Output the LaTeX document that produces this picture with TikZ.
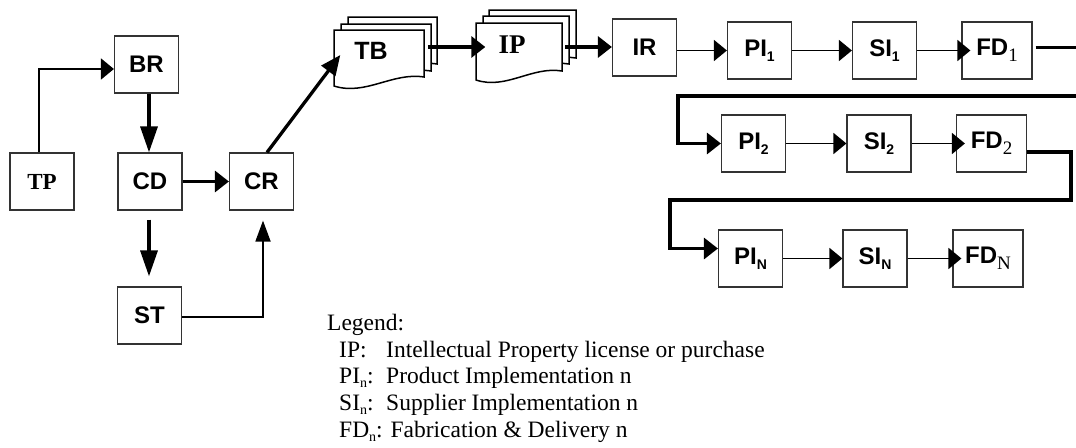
\documentclass[tikz,border=0pt]{standalone}
\usepackage{fontspec}
\setmainfont{Liberation Serif}
\newfontfamily\arialfam{Liberation Sans}
\usetikzlibrary{arrows.meta,calc}
\newcommand{\asub}[1]{\raisebox{-5pt}{\fontsize{14}{14}\selectfont #1}}
\newcommand{\tsub}[1]{\raisebox{-6pt}{\rmfamily\mdseries\fontsize{19}{19}\selectfont #1}}
\newcommand{\lsub}[1]{\raisebox{-4pt}{\fontsize{14}{14}\selectfont #1}}
\newcommand{\docsheet}[4]{%
  \filldraw[sheet] (#1,#2) -- ({#1+#3},#2) -- ({#1+#3},{#2+#4-9})
    .. controls ({#1+0.65*#3},{#2+#4-14}) and ({#1+0.35*#3},{#2+#4+10}) .. (#1,{#2+#4}) -- cycle;}
\begin{document}
\begin{tikzpicture}[x=1pt,y=-1pt,
  box/.style={draw=black!80, line width=1.2pt, minimum width=64pt, minimum height=57pt,
    inner sep=0pt, font=\arialfam\bfseries\fontsize{24}{24}\selectfont},
  fdbox/.style={box, minimum width=70pt},
  sheet/.style={draw=black, fill=white, line width=1.5pt},
  sheetnode/.style={inner sep=0pt},
  legend/.style={anchor=base west, inner sep=0pt, font=\rmfamily\fontsize{23.5}{23.5}\selectfont},
  thinline/.style={line width=1.8pt},
  thickline/.style={line width=3.3pt},
  ah/.style={-{Triangle[length=13pt,width=21pt]}},
  ahk/.style={-{Triangle[length=14pt,width=21pt]}},
  av/.style={-{Triangle[length=26pt,width=17pt]}},
  avt/.style={-{Triangle[length=21pt,width=15pt]}},
  ad/.style={-{Triangle[length=20pt,width=17pt]}}]
\clip (0,0) rectangle (1076,447);
\fill[white] (0,0) rectangle (1076,447);

% stacked documents
\docsheet{348}{17}{89}{56}
\docsheet{341}{24}{90}{56}
\docsheet{334}{30}{90}{56}
\docsheet{489}{10}{87}{57}
\docsheet{483}{16}{86}{57}
\docsheet{476}{23}{86}{57}
\node[sheetnode, minimum width=90pt, minimum height=56pt,
  font=\arialfam\bfseries\fontsize{25}{25}\selectfont] (TB) at (379,58)
  {\raisebox{-1pt}[0pt][0pt]{\makebox[0pt]{TB\hspace{16pt}}}};
\node[sheetnode, minimum width=86pt, minimum height=57pt,
  font=\rmfamily\bfseries\fontsize{27}{27}\selectfont] (IP) at (519,51.5)
  {\raisebox{-1.5pt}[0pt][0pt]{\makebox[0pt]{IP\hspace{14pt}}}};

% boxes
\node[box, font=\rmfamily\bfseries\fontsize{23}{23}\selectfont] (TP) at (42,181.5) {TP};
\node[box] (BR) at (146.5,64.5) {BR};
\node[box] (CD) at (150,181.5) {CD};
\node[box] (CR) at (261.5,181.5) {CR};
\node[box] (ST) at (149.5,315.5) {ST};
\node[box] (IR) at (644.5,47.5) {IR};
\node[box] (PI1) at (759.5,50.5) {PI\asub{1}};
\node[box] (SI1) at (884.5,50.5) {SI\asub{1}};
\node[fdbox] (FD1) at (997,50.5) {FD\tsub{1}};
\node[box] (PI2) at (753.5,143.5) {PI\asub{2}};
\node[box] (SI2) at (879,143.5) {SI\asub{2}};
\node[fdbox] (FD2) at (991.5,143.5) {FD\tsub{2}};
\node[box] (PIN) at (750.5,258.5) {PI\asub{N}};
\node[box] (SIN) at (875,258.5) {SI\asub{N}};
\node[fdbox] (FDN) at (988,258.5) {FD\tsub{N}};

\coordinate (l1) at (678,96);
\coordinate (c2) at (1071,200);
\coordinate (c3) at (670,200);

% connectors
\draw[thinline, ah] ([xshift=-3pt]TP.north) |- ([yshift=-4.5pt]BR.west);
\draw[thickline, av] ([xshift=2.5pt]BR.south) -- ([xshift=-1pt]CD.north);
\draw[thickline, av] ([xshift=-1pt,yshift=-9pt]CD.south) -- ([xshift=-0.5pt,yshift=10pt]ST.north);
\draw[thickline, ahk] (CD.east) -- (CR.west);
\draw[thinline, avt] ([yshift=-1.5pt]ST.east) -| ([xshift=1.5pt,yshift=-10pt]CR.south);
\draw[thickline, ad] ([xshift=5.5pt]CR.north) -- ([xshift=6.5pt,yshift=3pt]TB.west);
\draw[thickline, ahk] ([xshift=3.7pt,yshift=11pt]TB.east) -- ([xshift=9.5pt,yshift=4.5pt]IP.west);
\draw[thickline, ahk] ([xshift=3pt,yshift=4.5pt]IP.east) -- ([yshift=0.5pt]IR.west);
\draw[thinline, ah] (IR.east |- PI1.west) -- (PI1.west);
\draw[thinline, ah] (PI1.east) -- (SI1.west);
\draw[thinline, ah] (SI1.east) -- ([xshift=9pt]FD1.west);
\draw[thickline, ahk] ([xshift=3pt,yshift=3pt]FD1.east) -- ++(60,0) |- (l1) |- (PI2.west);
\draw[thinline, ah] (PI2.east) -- (SI2.west);
\draw[thinline, ah] (SI2.east) -- ([xshift=9pt]FD2.west);
\draw[thickline, ahk] ([yshift=-8.5pt]FD2.east) -| (c2) -- (c3) |- ([yshift=10pt]PIN.west);
\draw[thinline, ah] (PIN.east) -- (SIN.west);
\draw[thinline, ah] (SIN.east) -- ([xshift=9pt]FDN.west);

% legend
\node[legend] (lg) at (327,330) {Legend:};
\node[legend] (lgIPk) at (339,357) {IP:};
\node[legend] (lgIPv) at (386,357) {Intellectual Property license or purchase};
\node[legend] (lgPIk) at (339,383) {PI\lsub{n}:};
\node[legend] (lgPIv) at (386,383) {Product Implementation n};
\node[legend] (lgSIk) at (339,410) {SI\lsub{n}:};
\node[legend] (lgSIv) at (386,410) {Supplier Implementation n};
\node[legend] (lgFD) at (339,437) {FD\lsub{n}: Fabrication \& Delivery n};
\end{tikzpicture}
\end{document}
